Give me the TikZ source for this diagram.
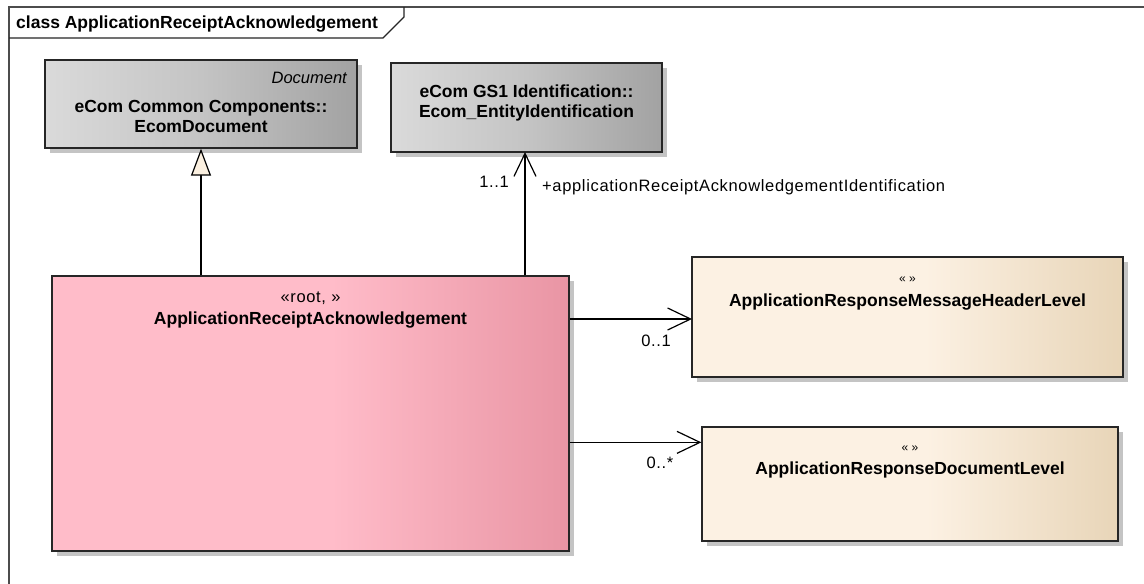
\documentclass[tikz,border=0pt]{standalone}
\usepackage{fontspec}
\setmainfont{Liberation Sans}
\usetikzlibrary{arrows.meta,shadows,calc}
\definecolor{grayL}{HTML}{DADADA}
\definecolor{grayM}{HTML}{C4C4C4}
\definecolor{grayR}{HTML}{A2A2A2}
\definecolor{pinkL}{HTML}{FFBCC9}
\definecolor{pinkR}{HTML}{E995A4}
\definecolor{begL}{HTML}{FCF1E3}
\definecolor{begR}{HTML}{E8D5B8}
\definecolor{triFill}{HTML}{FBF0E0}
\definecolor{shadowc}{HTML}{C4C4C4}
\pgfdeclarehorizontalshading{grayshade}{100bp}{color(0bp)=(grayL); color(25bp)=(grayL); color(50bp)=(grayM); color(75bp)=(grayR); color(100bp)=(grayR)}
\pgfdeclarehorizontalshading{pinkshade}{100bp}{color(0bp)=(pinkL); color(25bp)=(pinkL); color(52bp)=(pinkL); color(75bp)=(pinkR); color(100bp)=(pinkR)}
\pgfdeclarehorizontalshading{beigeshade}{100bp}{color(0bp)=(begL); color(25bp)=(begL); color(52bp)=(begL); color(75bp)=(begR); color(100bp)=(begR)}
\tikzset{
  umlbox/.style={draw=black!85, line width=1.3pt, inner sep=0pt,
    drop shadow={shadow xshift=5pt, shadow yshift=-5pt, fill=shadowc, opacity=1}},
  graybox/.style={umlbox, shading=grayshade},
  pinkbox/.style={umlbox, shading=pinkshade},
  beigebox/.style={umlbox, shading=beigeshade},
  boldtxt/.style={font=\fontsize{17.5}{20}\selectfont\bfseries, align=center, inner sep=0pt},
  regtxt/.style={font=\fontsize{16.5}{19}\selectfont\addfontfeature{LetterSpace=4}, inner sep=0pt},
  conn/.style={draw=black, line width=1.2pt},
  assoc/.style={conn, -{Straight Barb[length=23pt,width=22pt,line width=1.2pt]}},
  gen/.style={conn, -{Triangle[length=27pt,width=20pt,open,fill=triFill,line width=1.2pt]}},
}
\begin{document}
\begin{tikzpicture}[x=1pt,y=-1pt]
\useasboundingbox (0,0) rectangle (1144,584);
\fill[white] (0,0) rectangle (1144,584);
% frame
\draw[line width=1.3pt, draw=black!70] (9,584) -- (9,7) -- (1144,7);
\draw[line width=1.2pt, draw=black!85] (9,38) -- (383,38) -- (404,17) -- (404,7);
\node[font=\fontsize{17.5}{20}\selectfont\bfseries, anchor=west, inner sep=0pt] (title) at (16,24) {class ApplicationReceiptAcknowledgement};
% classes
\node[graybox, minimum width=312pt, minimum height=88pt] (ecom) at (201,104) {};
\node[regtxt, font=\fontsize{16.5}{19}\selectfont\itshape, anchor=east] (ecomst) at (347,78) {Document};
\node[boldtxt] (ecomname) at (201,116) {eCom Common Components::\\EcomDocument};
\node[graybox, minimum width=271pt, minimum height=89pt] (ent) at (526.5,107.5) {};
\node[boldtxt] (entname) at (526.5,103) {eCom GS1 Identification::\\Ecom\_EntityIdentification};
\node[pinkbox, minimum width=517pt, minimum height=275pt] (pink) at (310.5,413.5) {};
\node[regtxt] (pinkst) at (310.5,298) {«root, »};
\node[boldtxt] (pinkname) at (310.5,320) {ApplicationReceiptAcknowledgement};
\node[beigebox, minimum width=431pt, minimum height=120pt] (hdr) at (907.5,317) {};
\node[regtxt, font=\fontsize{12}{14}\selectfont] (hdrst) at (907.5,280) {« »};
\node[boldtxt] (hdrname) at (907.5,302) {ApplicationResponseMessageHeaderLevel};
\node[beigebox, minimum width=416pt, minimum height=114pt] (doc) at (910,484) {};
\node[regtxt, font=\fontsize{12}{14}\selectfont] (docst) at (910,449) {« »};
\node[boldtxt] (docname) at (910,470) {ApplicationResponseDocumentLevel};
% connectors
\draw[gen] (pink.north -| ecom.south) -- (ecom.south);
\coordinate (entfoot) at (525,152);
\draw[assoc] (pink.north -| entfoot) -- (entfoot);
\node[regtxt] (m11) at (494,182) {1..1};
\node[regtxt, anchor=west] (role) at (542,187) {+applicationReceiptAcknowledgementIdentification};
\coordinate (ht) at (692,319);
\draw[assoc] (ht -| pink.east) -- (ht);
\node[regtxt] (m01) at (656,341) {0..1};
\coordinate (dt) at ([yshift=-16pt]doc.north west);
\draw[assoc] (dt -| pink.east) -- (dt);
\node[regtxt] (m0s) at (660,463) {0..*};
\end{tikzpicture}
\end{document}
